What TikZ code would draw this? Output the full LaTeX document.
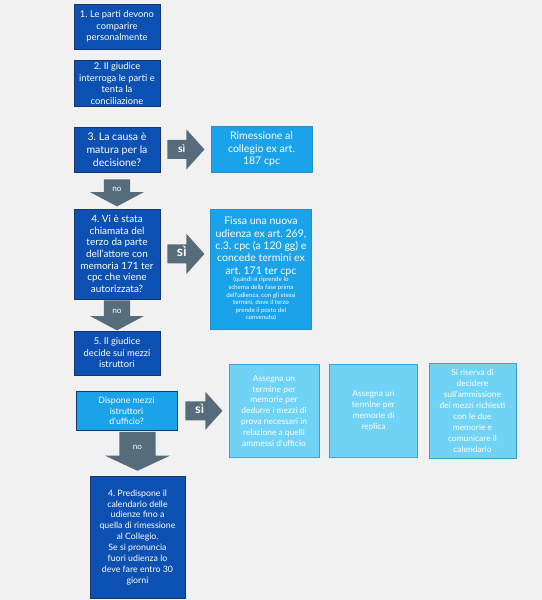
\documentclass[tikz,border=0pt]{standalone}
\usepackage{fontspec}
\setmainfont{Lato}
\usetikzlibrary{shapes.arrows, positioning}
\definecolor{pagegray}{RGB}{241,241,241}
\definecolor{deepblue}{RGB}{12,80,178}
\definecolor{deepedge}{RGB}{24,52,110}
\definecolor{skyblue}{RGB}{26,163,232}
\definecolor{skyedge}{RGB}{40,140,205}
\definecolor{paleblue}{RGB}{112,211,246}
\definecolor{paleedge}{RGB}{60,160,215}
\definecolor{arrowgray}{RGB}{86,108,122}
\frenchspacing

\begin{document}
\begin{tikzpicture}[
    node distance=0.3cm,
    phase/.style={rectangle, draw=deepedge, fill=deepblue, text=white, align=center, minimum width=2.58cm, inner sep=1pt, font=\fontsize{8}{9.8}\selectfont},
    outcome/.style={rectangle, draw=skyedge, fill=skyblue, text=white, align=center, minimum width=3.03cm, inner sep=1pt, font=\fontsize{9}{10.6}\selectfont},
    option/.style={rectangle, draw=paleedge, fill=paleblue, text=white, align=center, inner sep=1pt, font=\fontsize{7.2}{9.3}\selectfont},
    yesarrow/.style={single arrow, fill=arrowgray, text=white, inner xsep=2pt, inner ysep=4pt, text height=6pt, text depth=1pt, minimum height=1.11cm, minimum width=1.2cm, single arrow head extend=0.3cm, single arrow tip angle=96, font=\bfseries\fontsize{9}{9}\selectfont},
    noarrow/.style={single arrow, shape border rotate=270, fill=arrowgray, text=white, inner xsep=7pt, inner ysep=2pt, minimum height=0.81cm, minimum width=1.6cm, single arrow head extend=0.4cm, single arrow tip angle=124, font=\fontsize{7}{7}\selectfont}
]
    \fill[pagegray] (0,0) rectangle (16.26,18);
    \useasboundingbox (0,0) rectangle (16.26,18);

    % main column
    \node[phase, minimum height=1.35cm] (parti) at (3.51,17.205) {1. Le parti devono\\comparire\\personalmente};
    \node[phase, minimum height=1.38cm, below=0.33cm of parti] (interroga) {2. Il giudice\\interroga le parti e\\tenta la\\conciliazione};
    \node[phase, minimum height=1.35cm, below=0.6cm of interroga, font=\fontsize{9}{11}\selectfont] (matura) {3. La causa è\\matura per la\\decisione?};
    \node[noarrow, below=0.21cm of matura] (noMatura) {no};
    \node[phase, minimum height=2.7cm, below=0.06cm of noMatura, font=\fontsize{8.5}{10}\selectfont] (terzo) {4. Vi è stata\\chiamata del\\terzo da parte\\dell'attore con\\memoria 171 ter\\cpc che viene\\autorizzata?};
    \node[noarrow, minimum height=0.9cm, below=0.03cm of terzo] (noTerzo) {no};
    \node[phase, minimum height=1.32cm, below=0cm of noTerzo] (mezzi) {5. Il giudice\\decide sui mezzi\\istruttori};
    \node[option, fill=skyblue, draw=deepedge, minimum width=3.03cm, minimum height=1.17cm, below=0.48cm of mezzi, xshift=0.285cm, font=\fontsize{7.5}{8.8}\selectfont] (ufficio) {Dispone mezzi\\istruttori\\d'ufficio?};
    \node[noarrow, minimum height=1.17cm, minimum width=1.95cm, inner xsep=10pt, single arrow head extend=0.4cm, single arrow tip angle=130, below=0.03cm of ufficio, xshift=0.33cm] (noUfficio) {no};
    \node[phase, minimum width=2.85cm, minimum height=3.66cm, below=0.15cm of noUfficio, font=\fontsize{7.5}{9.3}\selectfont] (calendario) {4. Predispone il\\calendario delle\\udienze fino a\\quella di rimessione\\al Collegio.\\Se si pronuncia\\fuori udienza lo\\deve fare entro 30\\giorni};

    % outcomes on the right
    \node[yesarrow, right=0.21cm of matura] (siMatura) {sì};
    \node[outcome, minimum height=1.38cm, right=0.18cm of siMatura] (rimessione) {Rimessione al\\collegio ex art.\\187 cpc};
    \node[yesarrow, right=0.21cm of terzo, font=\bfseries\fontsize{12}{12}\selectfont] (siTerzo) {sì};
    \node[outcome, text width=2.95cm, align=flush center, minimum height=3.6cm, below right=0cm and 1.5cm of terzo.north east] (nuova) {Fissa una nuova\\udienza ex art. 269,\\c.3. cpc (a 120 gg) e\\concede termini ex\\art. 171 ter cpc\par
        \fontsize{5.3}{6.5}\selectfont (quindi si riprende lo\\schema della fase prima\\dell'udienza, con gli stessi\\termini, dove il terzo\\prende il posto del\\convenuto)\par};
    \node[yesarrow, minimum width=1.14cm, single arrow head extend=0.27cm, right=0.24cm of ufficio, font=\bfseries\fontsize{11}{11}\selectfont] (siUfficio) {sì};
    \node[option, minimum width=2.7cm, minimum height=2.79cm, right=0.18cm of siUfficio] (deduzione) {Assegna un\\termine per\\memorie per\\dedurre i mezzi di\\prova necessari in\\relazione a quelli\\ammessi d'ufficio};
    \node[option, minimum width=2.64cm, minimum height=2.79cm, right=0.3cm of deduzione] (replica) {Assegna un\\termine per\\memorie di\\replica};
    \node[option, minimum width=2.61cm, minimum height=2.85cm, right=0.33cm of replica] (riserva) {Si riserva di\\decidere\\sull'ammissione\\dei mezzi richiesti\\con le due\\memorie e\\comunicare il\\calendario};

\end{tikzpicture}
\end{document}
